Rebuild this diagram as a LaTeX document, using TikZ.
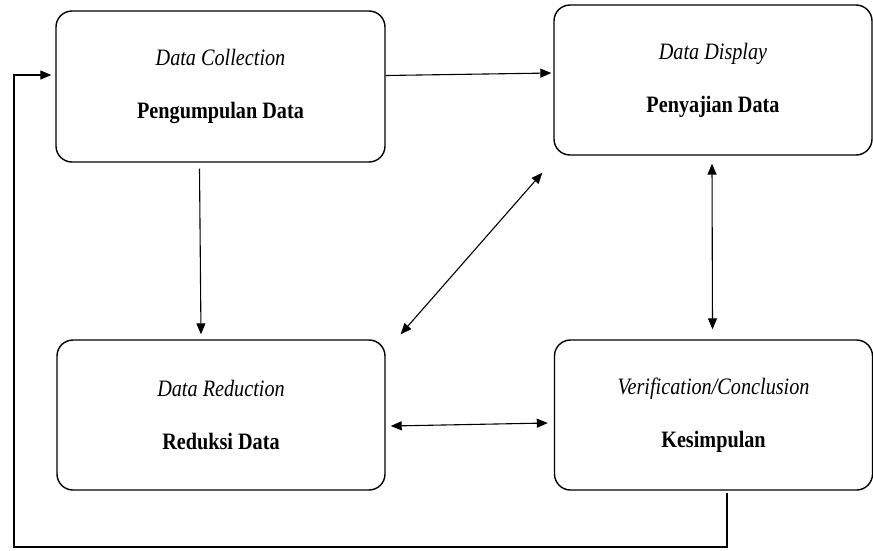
\documentclass[tikz,border=0pt]{standalone}
\usepackage{fontspec}
\setmainfont{Liberation Serif}[FakeStretch=0.86]
\usetikzlibrary{arrows.meta,positioning,calc}

\tikzset{
  stage/.style={draw,line width=1.4pt,rounded corners=16pt,align=center,
    font=\fontsize{23.5}{53}\selectfont,inner sep=0pt},
  link/.style={line width=1.1pt,-{Triangle[length=11pt,width=9pt]}},
  twoway/.style={line width=1.1pt,{Triangle[length=11pt,width=9pt]}-{Triangle[length=11pt,width=9pt]}}
}

\begin{document}
\begin{tikzpicture}[x=1pt,y=-1pt]
  \useasboundingbox (0,0) rectangle (873,550);
  \node[stage,minimum width=329pt,minimum height=151pt] (col) at (220.5,86.5) {\textit{Data Collection}\\\textbf{Pengumpulan Data}};
  \node[stage,minimum width=318pt,minimum height=150pt] (dis) at (713,80) {\textit{Data Display}\\\textbf{Penyajian Data}};
  \node[stage,minimum width=328pt,minimum height=150pt] (red) at (221,415) {\textit{Data Reduction}\\\textbf{Reduksi Data}};
  \node[stage,minimum width=318pt,minimum height=150pt] (ver) at (713.5,415) {\textit{Verification/Conclusion}\\\textbf{Kesimpulan}};
  \coordinate (loop) at (14,547);
  \draw[link] ([shift={(0,-11)}]col.east) -- ([shift={(-2,-7)}]dis.west);
  \draw[link] ([shift={(-21,6)}]col.south) -- ([shift={(-20,-5)}]red.north);
  \draw[twoway] ([shift={(15,-5)}]red.north east) -- ([shift={(-11,17)}]dis.south west);
  \draw[twoway] ([shift={(-1,8)}]dis.south) -- ([shift={(-1,-10)}]ver.north);
  \draw[twoway] ([shift={(5,11)}]red.east) -- ([shift={(-6,8)}]ver.west);
  \draw[link] ([shift={(13.5,2)}]ver.south) |- (loop) |- ([shift={(-4,-11.5)}]col.west);
\end{tikzpicture}
\end{document}
